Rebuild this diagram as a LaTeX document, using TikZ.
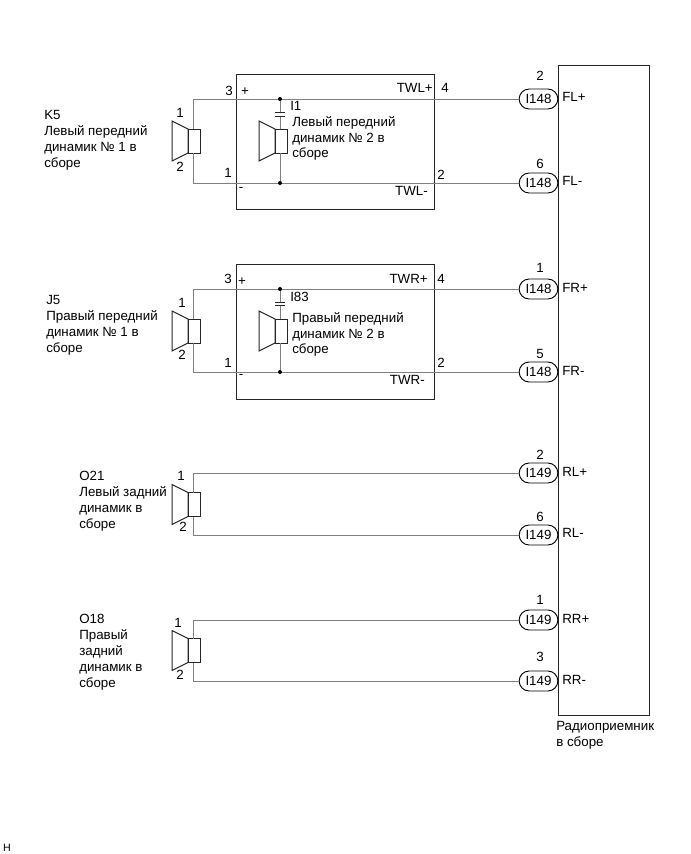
\documentclass[tikz,border=0pt]{standalone}
\usepackage{fontspec}
\setmainfont{Liberation Sans}
\usetikzlibrary{shapes.misc}

\tikzset{
  wire/.style={black!50, line width=.6pt},
  outline/.style={black!85, line width=.75pt},
  lbl/.style={inner sep=0pt, font=\fontsize{10}{11.9}\selectfont},
  txt/.style={lbl, anchor=north west, align=left},
  pill/.style={rounded rectangle, draw=black, line width=.7pt, fill=white, inner sep=0pt,
    minimum width=29pt, minimum height=15pt, font=\fontsize{10}{11.9}\selectfont},
  dot/.style={circle, fill=black, inner sep=0pt, minimum size=3pt},
  spk/.pic={
    \draw [outline] (-21,-20) -- (-5,-12) -- (-5,12) -- (-21,20) -- cycle;
    \draw [outline] (-5,-12) rectangle (7,12);
    \coordinate (-t) at (0,-12);
    \coordinate (-b) at (0,12);
  }
}

\begin{document}
\begin{tikzpicture}[x=.75pt, y=-.75pt, line cap=butt]
    \useasboundingbox (0,0) rectangle (691,854);

    % radio
    \draw [outline] (558,65) rectangle (649,715);
    \node [txt] (radio) at (556,721) {Радиоприемник\\в сборе};

    % connectors on the radio
    \foreach \n/\y/\p/\py/\c/\s/\sy in {
        fla/99/2/76/I148/FL+/97, flb/183/6/164/I148/FL-/181,
        fra/289/1/268/I148/FR+/288, frb/372/5/354/I148/FR-/371,
        rla/473/2/455/I149/RL+/472, rlb/535/6/517/I149/RL-/533,
        rra/620/1/600/I149/RR+/619, rrb/681/3/657/I149/RR-/680}{
        \node [pill] (\n) at (538.5,\y) {\c};
        \node [lbl] (\n pin) at (540,\py) {\p};
        \node [lbl, anchor=west] (\n sig) at (562,\sy) {\s};
    }

    % front modules
    \node [draw=black!85, line width=.75pt, minimum width=148.5pt, minimum height=101.25pt, inner sep=0pt] (ml) at (335,141.5) {};
    \node [draw=black!85, line width=.75pt, minimum width=148.5pt, minimum height=101.25pt, inner sep=0pt] (mr) at (335,331.5) {};

    % speakers
    \pic (sk) at (193,141) {spk};
    \pic (sj) at (193,331) {spk};
    \pic (so) at (193,504.5) {spk};
    \pic (sr) at (193,650.5) {spk};
    \pic (si) at (280,141) {spk};
    \pic (sh) at (280,331) {spk};

    \draw [wire] (sk-t) |- (fla.west);
    \draw [wire] (sk-b) |- (flb.west);
    \draw [wire] (sj-t) |- (fra.west);
    \draw [wire] (sj-b) |- (frb.west);
    \draw [wire] (so-t) |- (rla.west);
    \draw [wire] (so-b) |- (rlb.west);
    \draw [wire] (sr-t) |- (rra.west);
    \draw [wire] (sr-b) |- (rrb.west);

    % inner speakers with their capacitors
    \foreach \s/\a/\b/\y/\yp in {si/fla/flb/112/116, sh/fra/frb/302/305}{
        \node [dot] (\s top) at (\s-t |- \a) {};
        \node [dot] (\s bot) at (\s-b |- \b) {};
        \coordinate (\s capa) at (\s-t |- 0,\y);
        \coordinate (\s capb) at (\s-t |- 0,\yp);
        \draw [wire] (\s top) -- (\s capa);
        \draw [wire] (\s capb) -- (\s-t);
        \draw [wire] (\s-b) -- (\s bot);
        \draw [outline, line width=.5pt] ([xshift=-3.75pt]\s capa) -- ([xshift=3.75pt]\s capa);
        \draw [outline, line width=.5pt] ([xshift=-3.75pt]\s capb) -- ([xshift=3.75pt]\s capb);
    }

    % texts
    \node [txt] (kname) at (44,110) {K5\\Левый передний\\динамик № 1 в\\сборе};
    \node [txt] (jname) at (46,295) {J5\\Правый передний\\динамик № 1 в\\сборе};
    \node [txt] (oname) at (79,471) {O21\\Левый задний\\динамик в\\сборе};
    \node [txt] (rname) at (79,614) {O18\\Правый\\задний\\динамик в\\сборе};
    \node [txt] (iname) at (292,116) {Левый передний\\динамик № 2 в\\сборе};
    \node [txt] (hname) at (292,312) {Правый передний\\динамик № 2 в\\сборе};
    \node [lbl, anchor=west] (icode) at (290,106) {I1};
    \node [lbl, anchor=west] (hcode) at (290,297) {I83};

    \foreach \n/\x/\y/\t in {
        ka/180/113/1, kb/180/167/2, ja/182/303/1, jb/182/355/2,
        oa/181/476/1, ob/183/527/2, ra/178/623/1, rb/180/675/2,
        lc/229/91/3, ld/228/173/1, le/445/88/4, lf/441/175/2,
        mc/228/279/3, md/228/363/1, me/441/279/4, mf/441/363/2}{
        \node [lbl] (n\n) at (\x,\y) {\t};
    }

    \node [lbl] (lplus) at (245,92) {+};
    \node [lbl] (lminus) at (241,189) {-};
    \node [lbl] (mplus) at (242,282) {+};
    \node [lbl] (mminus) at (241,376) {-};
    \node [lbl, anchor=east] (ltwa) at (433,88) {TWL+};
    \node [lbl, anchor=east] (ltwb) at (428,191) {TWL-};
    \node [lbl, anchor=east] (mtwa) at (428,279) {TWR+};
    \node [lbl, anchor=east] (mtwb) at (425,380) {TWR-};

    \node [inner sep=0pt, font=\fontsize{8}{9}\selectfont] (corner) at (7,848) {H};
\end{tikzpicture}
\end{document}
